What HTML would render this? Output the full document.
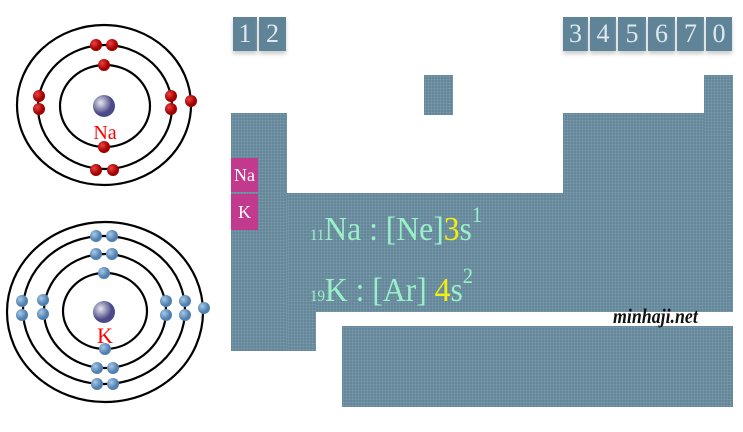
<!DOCTYPE html>
<html><head><meta charset="utf-8"><style>
body{margin:0;width:743px;height:432px;background:#fff;position:relative;overflow:hidden;font-family:"Liberation Serif",serif}
.t{position:absolute;background:#64879a;background-image:radial-gradient(#7a9aaa 1px,transparent 1px);background-size:3px 3px}
.n{position:absolute;color:#dfe8ee;font-size:26px;text-align:center;line-height:34px;top:17px;height:34px;background:#5f8498;box-shadow:0 3px 4px #ccc}
.m{position:absolute;background:#c23a8e;color:#fff;font-size:18px;text-align:center;left:231px;width:27px}
.f{position:absolute;color:#9af0c8;font-size:34px;line-height:1;white-space:nowrap;transform:scaleX(.93);transform-origin:left}
.f sub{font-size:16px;vertical-align:baseline}
.f sup{font-size:22px;vertical-align:baseline;position:relative;top:-18px}
.y{color:#f2ee10}
</style></head><body>
<svg width="220" height="432" style="position:absolute;left:0;top:0">
<defs><radialGradient id="nu" cx="35%" cy="35%"><stop offset="0" stop-color="#e8e8ee"/><stop offset="1" stop-color="#4a4a88"/></radialGradient>
<radialGradient id="r" cx="35%" cy="35%"><stop offset="0" stop-color="#f04040"/><stop offset="1" stop-color="#a00000"/></radialGradient>
<radialGradient id="b" cx="35%" cy="35%"><stop offset="0" stop-color="#a8c8e8"/><stop offset="1" stop-color="#5080b0"/></radialGradient></defs>
<g fill="none" stroke="#000" stroke-width="2.2">
<ellipse cx="105" cy="106" rx="45" ry="41"/><ellipse cx="105" cy="107" rx="67" ry="62"/><ellipse cx="104" cy="105" rx="87" ry="80"/>
<ellipse cx="105" cy="311" rx="42" ry="38"/><ellipse cx="105" cy="311" rx="61" ry="57"/><ellipse cx="104" cy="310" rx="81" ry="74"/><ellipse cx="105" cy="312" rx="98" ry="90"/>
</g>
<circle cx="104" cy="106" r="11" fill="url(#nu)"/><circle cx="104" cy="312" r="11" fill="url(#nu)"/>
<g fill="url(#r)">
<circle cx="104" cy="65" r="6"/><circle cx="104" cy="147" r="6"/><circle cx="96" cy="45" r="6"/><circle cx="112" cy="45" r="6"/><circle cx="96" cy="170" r="6"/><circle cx="113" cy="170" r="6"/><circle cx="39" cy="96" r="6"/><circle cx="39" cy="109" r="6"/><circle cx="171" cy="96" r="6"/><circle cx="171" cy="109" r="6"/><circle cx="191" cy="101" r="6"/>
</g>
<g fill="url(#b)">
<circle cx="104" cy="273" r="6"/><circle cx="105" cy="349" r="6"/><circle cx="96" cy="254" r="6"/><circle cx="112" cy="254" r="6"/><circle cx="97" cy="368" r="6"/><circle cx="113" cy="368" r="6"/><circle cx="43" cy="300" r="6"/><circle cx="43" cy="314" r="6"/><circle cx="166" cy="301" r="6"/><circle cx="166" cy="315" r="6"/>
<circle cx="96" cy="236" r="6"/><circle cx="112" cy="236" r="6"/><circle cx="97" cy="384" r="6"/><circle cx="113" cy="384" r="6"/><circle cx="22" cy="301" r="6"/><circle cx="22" cy="315" r="6"/><circle cx="185" cy="301" r="6"/><circle cx="185" cy="315" r="6"/><circle cx="204" cy="308" r="6"/>
</g>
<text x="105" y="139" font-family="Liberation Serif" font-size="20" fill="#f00" text-anchor="middle">Na</text>
<text x="105" y="343" font-family="Liberation Serif" font-size="22" fill="#f00" text-anchor="middle">K</text>
</svg>
<div class="n" style="left:233px;width:24px">1</div><div class="n" style="left:259px;width:27px">2</div>
<div class="n" style="left:563px;width:25px">3</div><div class="n" style="left:590px;width:26px">4</div><div class="n" style="left:618px;width:28px">5</div><div class="n" style="left:648px;width:27px">6</div><div class="n" style="left:677px;width:27px">7</div><div class="n" style="left:706px;width:26px">0</div>
<div class="t" style="left:424px;top:75px;width:29px;height:40px"></div>
<div class="t" style="left:231px;top:113px;width:56px;height:238px"></div>
<div class="t" style="left:563px;top:113px;width:170px;height:90px"></div>
<div class="t" style="left:704px;top:75px;width:29px;height:60px"></div>
<div class="t" style="left:287px;top:193px;width:446px;height:119px"></div>
<div class="t" style="left:287px;top:300px;width:29px;height:51px"></div>
<div class="t" style="left:342px;top:326px;width:391px;height:81px"></div>
<div class="m" style="top:158px;height:34px;line-height:34px">Na</div>
<div class="m" style="top:194px;height:36px;line-height:36px">K</div>
<div class="f" style="left:310px;top:213px"><sub>11</sub>Na : [Ne]<span class="y">3</span>s<sup>1</sup></div>
<div class="f" style="left:310px;top:274px"><sub>19</sub>K : [Ar] <span class="y">4</span>s<sup>2</sup></div>
<div style="position:absolute;left:613px;top:304px;font-size:21px;font-style:italic;font-weight:bold;color:#111;transform:scaleX(.85);transform-origin:left">minhaji.net</div>
</body></html>
